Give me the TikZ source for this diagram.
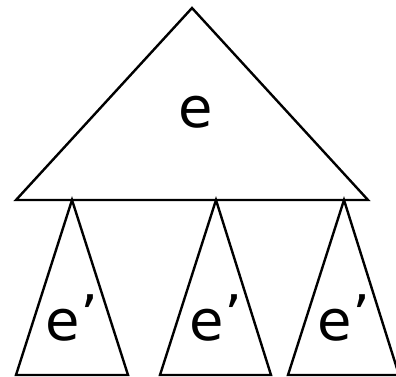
\documentclass[tikz,border=0pt]{standalone}
\usepackage{fontspec}
\setmainfont{DejaVu Sans}
\begin{document}
\begin{tikzpicture}[x=1pt,y=-1pt,
  tri/.style={draw=black,line width=2.4pt,line join=miter},
  lbl/.style={font=\fontsize{56}{60}\selectfont,inner sep=0pt}]
\useasboundingbox (0,0) rectangle (396,377);
% big triangle
\coordinate (T) at (192,8);
\coordinate (L) at (16,200);
\coordinate (R) at (368,200);
\draw[tri] (T) -- (L) -- (R) -- cycle;
% small triangles
\coordinate (a1) at (72,200);
\coordinate (a1l) at (16,375);
\coordinate (a1r) at (128,375);
\coordinate (a2) at (216,200);
\coordinate (a2l) at (160,375);
\coordinate (a2r) at (271,375);
\coordinate (a3) at (344,200);
\coordinate (a3l) at (288,375);
\coordinate (a3r) at (399,375);
\draw[tri] (a1) -- (a1l) -- (a1r) -- cycle;
\draw[tri] (a2) -- (a2l) -- (a2r) -- cycle;
\draw[tri] (a3) -- (a3l) -- (a3r) -- cycle;
% labels
\node[lbl] (e) at (196,112) {e};
\node[lbl] (e1) at (72,318) {e\raisebox{5pt}{’}};
\node[lbl] (e2) at (216,318) {e\raisebox{5pt}{’}};
\node[lbl] (e3) at (344,318) {e\raisebox{5pt}{’}};
\end{tikzpicture}
\end{document}
